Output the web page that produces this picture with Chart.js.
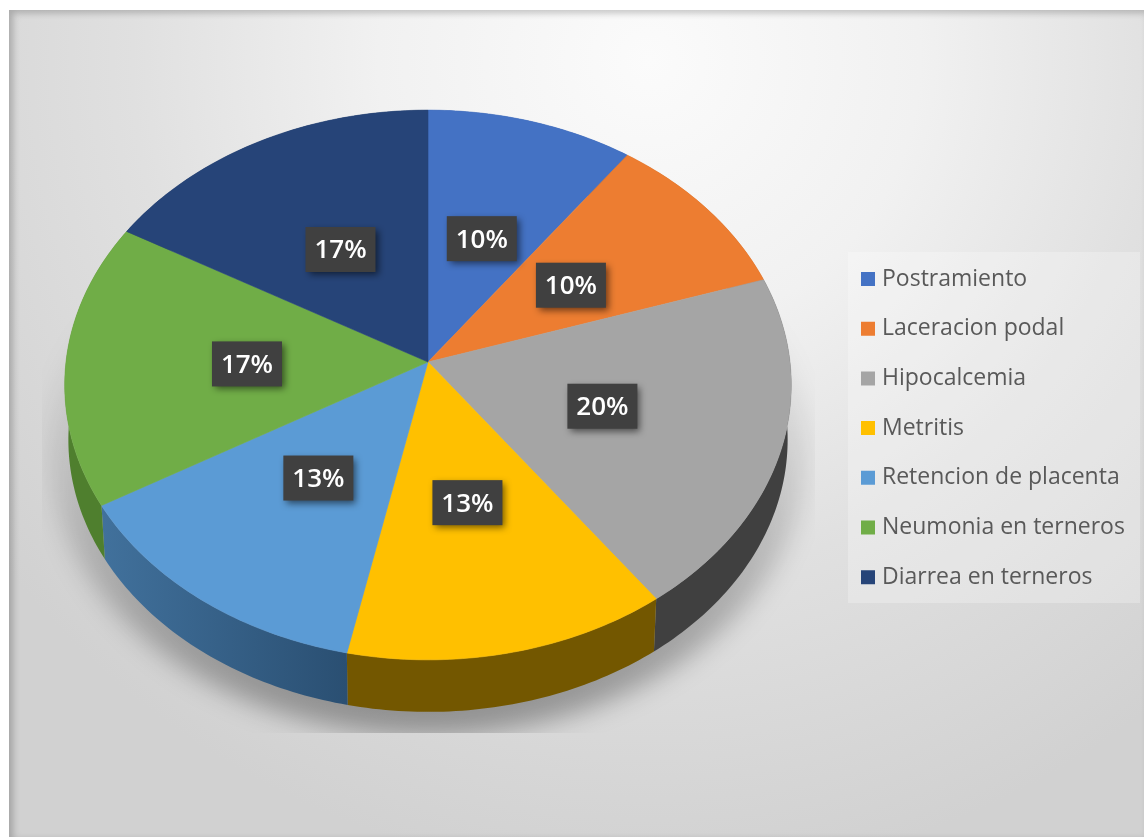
<!DOCTYPE html>
<html>
<head>
<meta charset="utf-8">
<title>Enfermedades</title>
<script src="https://cdn.jsdelivr.net/npm/chart.js@4"></script>
<style>
    html, body { margin: 0; padding: 0; background: #fff; }
    #plate {
        position: absolute; left: 9px; top: 10px; width: 1135px; height: 827px;
        background: radial-gradient(circle 820px at 640px 50px, #fbfbfb 0%, #f1f1f1 33%, #e0e0e0 63%, #d1d1d1 100%);
        box-shadow: inset 4px 3px 7px rgba(0, 0, 0, 0.22);
    }
    #myChart { position: absolute; left: 0; top: 0; }
</style>
</head>
<body>
<div id="plate"></div>
<canvas id="myChart" width="1144" height="837"></canvas>
<script>
const categories = ['Postramiento', 'Laceracion podal', 'Hipocalcemia', 'Metritis',
    'Retencion de placenta', 'Neumonia en terneros', 'Diarrea en terneros'];
const values = [10, 10, 20, 13.3, 13.3, 16.7, 16.7];

const topColors = ['#4472c4', '#ed7d31', '#a5a5a5', '#ffc000', '#5b9bd5', '#70ad47', '#264478'];
// side wall colours, first at the slice start and second at its end
const wallStart = ['#2f5597', '#ae5a21', '#404040', '#735700', '#2a4f72', '#4f7f2e', '#1a3054'];
const wallEnd = ['#2f5597', '#ae5a21', '#404040', '#735700', '#41719c', '#548235', '#1a3054'];

// fake 3D: the flat disc is tilted with a small perspective divide
const TILT = 0.754;
const PERSP = 0.0836;
const WALL_SCALE = 0.99;
const WALL_DROP = 55;

function project(arc, angle, frac, scale, drop) {
    const u = Math.cos(angle) * frac;
    const v = Math.sin(angle) * frac;
    const w = 1 - PERSP * v;
    return {
        x: arc.x + scale * arc.outerRadius * u / w,
        y: arc.y + drop + scale * arc.outerRadius * TILT * v / w
    };
}

function rimPoints(arc, from, to, scale, drop) {
    const steps = Math.max(2, Math.ceil(Math.abs(to - from) * 60));
    const pts = [];
    for (let i = 0; i <= steps; i++) {
        pts.push(project(arc, from + (to - from) * i / steps, 1, scale, drop));
    }
    return pts;
}

function tracePoints(ctx, pts) {
    pts.forEach((p, i) => i === 0 ? ctx.moveTo(p.x, p.y) : ctx.lineTo(p.x, p.y));
}

const pie3d = {
    id: 'pie3d',
    afterLayout(chart) {
        // legend sits beside the pie instead of taking space from it
        chart.chartArea = { left: 61.5, right: 794.5, top: -4.5, bottom: 728.5, width: 733, height: 733 };
        const legend = chart.legend;
        legend.left = 838.8;
        legend.right = 1144;
        legend.top = 240.8;
        legend.bottom = 837;
    },
    beforeDraw(chart) {
        const ctx = chart.ctx;
        ctx.save();
        ctx.fillStyle = 'rgba(255, 255, 255, 0.25)';
        ctx.fillRect(848, 252, 292, 351);
        ctx.restore();
    },
    beforeDatasetDraw(chart, args) {
        const ctx = chart.ctx;
        const arcs = args.meta.data;
        const first = arcs[0];

        // soft shadow under the disc
        ctx.save();
        ctx.beginPath();
        ctx.rect(42, 270, 773, 463);
        ctx.clip();
        ctx.filter = 'blur(13px)';
        const shade = ctx.createLinearGradient(0, 290, 0, 730);
        shade.addColorStop(0, 'rgba(0, 0, 0, 0)');
        shade.addColorStop(0.45, 'rgba(0, 0, 0, 0.13)');
        shade.addColorStop(1, 'rgba(0, 0, 0, 0.34)');
        ctx.fillStyle = shade;
        ctx.beginPath();
        tracePoints(ctx, rimPoints(first, 0, Math.PI * 2, 1.04, WALL_DROP + 8));
        ctx.closePath();
        ctx.fill();
        ctx.restore();

        // side walls first, the top face covers what is out of sight
        arcs.forEach((arc, i) => {
            const top = rimPoints(arc, arc.startAngle, arc.endAngle, 1, 0);
            const bottom = rimPoints(arc, arc.startAngle, arc.endAngle, WALL_SCALE, WALL_DROP);
            const fill = ctx.createLinearGradient(top[0].x, 0, top[top.length - 1].x, 0);
            fill.addColorStop(0, wallStart[i]);
            fill.addColorStop(1, wallEnd[i]);
            ctx.fillStyle = fill;
            ctx.beginPath();
            tracePoints(ctx, top.concat(bottom.reverse()));
            ctx.closePath();
            ctx.fill();
        });

        arcs.forEach((arc, i) => {
            ctx.fillStyle = topColors[i];
            ctx.strokeStyle = topColors[i];
            ctx.lineWidth = 0.6;
            ctx.beginPath();
            ctx.moveTo(arc.x, arc.y);
            rimPoints(arc, arc.startAngle, arc.endAngle, 1, 0).forEach(p => ctx.lineTo(p.x, p.y));
            ctx.closePath();
            ctx.fill();
            ctx.stroke();
        });
        return false; // flat arcs are replaced by the ones above
    },
    afterDatasetsDraw(chart) {
        const ctx = chart.ctx;
        const arcs = chart.getDatasetMeta(0).data;
        ctx.save();
        ctx.font = '600 26px "Open Sans"';
        ctx.textAlign = 'center';
        ctx.textBaseline = 'middle';
        arcs.forEach((arc, i) => {
            const p = project(arc, (arc.startAngle + arc.endAngle) / 2, 0.5, 1, 1);
            ctx.shadowColor = 'rgba(0, 0, 0, 0.55)';
            ctx.shadowBlur = 7;
            ctx.shadowOffsetX = 3;
            ctx.shadowOffsetY = 3;
            ctx.fillStyle = '#404040';
            ctx.fillRect(p.x - 35, p.y - 22, 70, 45);
            ctx.shadowColor = 'transparent';
            ctx.fillStyle = '#ffffff';
            ctx.fillText(Math.round(values[i]) + '%', p.x, p.y + 2);
        });
        ctx.restore();
    }
};

new Chart(document.getElementById('myChart'), {
    type: 'pie',
    data: {
        labels: categories,
        datasets: [{
            data: values,
            backgroundColor: topColors,
            borderColor: topColors,
            borderWidth: 9 // only thickens the legend swatches, arcs are drawn by pie3d
        }]
    },
    options: {
        responsive: false,
        animation: false,
        plugins: {
            tooltip: { enabled: false },
            legend: {
                position: 'right',
                align: 'start',
                labels: {
                    boxWidth: 5,
                    boxHeight: 5,
                    padding: 26.7,
                    color: '#595959',
                    font: { family: '"Open Sans"', size: 23 }
                }
            }
        }
    },
    plugins: [pie3d]
});
</script>
</body>
</html>
